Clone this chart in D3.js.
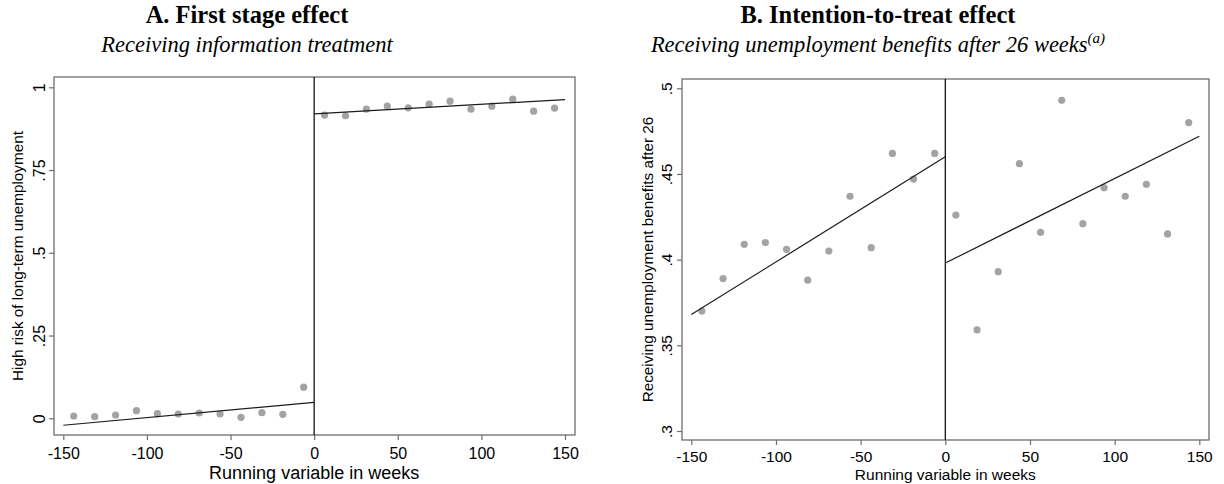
<!DOCTYPE html>
<html>
<head>
<meta charset="utf-8">
<script src="https://cdn.jsdelivr.net/npm/d3@7"></script>
<style>
  body { margin: 0; background: #fff; }
  svg text { fill: #000; }
</style>
</head>
<body>
<svg id="svg" width="1224" height="484"></svg>
<script>
// bin centres of the running variable (weeks)
const binsLeft = [-143.75, -131.25, -118.75, -106.25, -93.75, -81.25, -68.75, -56.25, -43.75, -31.25, -18.75, -6.25];
const binsRight = [6.25, 18.75, 31.25, 43.75, 56.25, 68.75, 81.25, 93.75, 106.25, 118.75, 131.25, 143.75];

// panel A: first stage
const firstLeft = [0.007, 0.005, 0.010, 0.023, 0.014, 0.013, 0.016, 0.013, 0.003, 0.017, 0.012, 0.094];
const firstRight = [0.916, 0.914, 0.934, 0.943, 0.938, 0.949, 0.958, 0.934, 0.943, 0.964, 0.928, 0.937];
const firstFitLeft = [[-150, -0.021], [0, 0.048]];
const firstFitRight = [[0, 0.920], [150, 0.963]];

// panel B: intention to treat
const ittLeft = [0.370, 0.389, 0.409, 0.410, 0.406, 0.388, 0.405, 0.437, 0.407, 0.462, 0.447, 0.462];
const ittRight = [0.426, 0.359, 0.393, 0.456, 0.416, 0.493, 0.421, 0.442, 0.437, 0.444, 0.415, 0.480];
const ittFitLeft = [[-150, 0.368], [0, 0.460]];
const ittFitRight = [[0, 0.398], [150, 0.472]];

const xTicks = [-150, -100, -50, 0, 50, 100, 150];
const yTicksA = [0, 0.25, 0.5, 0.75, 1];
const yTicksB = [0.3, 0.35, 0.4, 0.45, 0.5];

const svg = d3.select('#svg');

function fmt(d) {
  return d === 0 ? '0' : String(d).replace(/^0\./, '.');
}

function drawPanel(cfg) {
  const g = svg.append('g');

  const x = d3.scaleLinear().domain([-150, 150]).range(cfg.xRange);
  const y = d3.scaleLinear().domain(cfg.yDomain).range(cfg.yRange);

  // titles
  g.append('text')
    .attr('x', cfg.titleX).attr('y', 23)
    .attr('text-anchor', 'middle')
    .style('font-family', '"Liberation Serif", serif')
    .style('font-weight', 700)
    .style('font-size', '24.5px')
    .text(cfg.title);

  const sub = g.append('text')
    .attr('x', cfg.titleX).attr('y', 52)
    .attr('text-anchor', 'middle')
    .style('font-family', '"Liberation Serif", serif')
    .style('font-style', 'italic')
    .style('font-size', '22.5px')
    .text(cfg.subtitle);
  if (cfg.sup) {
    sub.append('tspan')
      .attr('dy', -9)
      .style('font-size', '15px')
      .text(cfg.sup);
  }

  // frame
  g.append('rect')
    .attr('x', cfg.frame[0]).attr('y', cfg.frame[1])
    .attr('width', cfg.frame[2] - cfg.frame[0])
    .attr('height', cfg.frame[3] - cfg.frame[1])
    .style('fill', 'none')
    .style('stroke', '#6e6e6e')
    .style('stroke-width', 1.3);

  // x ticks
  const xAxisG = g.append('g')
    .attr('transform', `translate(0,${cfg.frame[3]})`)
    .call(d3.axisBottom(x).tickValues(xTicks).tickSize(5).tickPadding(cfg.xPad).tickFormat(d => d));
  xAxisG.select('path.domain').remove();
  xAxisG.selectAll('line').style('stroke', '#6e6e6e').style('stroke-width', 1.2);
  xAxisG.selectAll('text')
    .style('font-family', '"Liberation Sans", Arial, sans-serif')
    .style('font-size', cfg.tickSize);

  // y ticks (rotated labels)
  const yAxisG = g.append('g')
    .attr('transform', `translate(${cfg.frame[0]},0)`)
    .call(d3.axisLeft(y).tickValues(cfg.yTicks).tickSize(5).tickFormat(fmt));
  yAxisG.select('path.domain').remove();
  yAxisG.selectAll('line').style('stroke', '#6e6e6e').style('stroke-width', 1.2);
  yAxisG.selectAll('text')
    .attr('x', null).attr('dy', null)
    .attr('transform', `translate(${cfg.yTickOff},0) rotate(-90)`)
    .attr('text-anchor', 'middle')
    .style('font-family', '"Liberation Sans", Arial, sans-serif')
    .style('font-size', cfg.tickSize);

  // axis titles
  g.append('text')
    .attr('transform', `translate(${cfg.yLabelX},${(cfg.frame[1] + cfg.frame[3]) / 2}) rotate(-90)`)
    .attr('text-anchor', 'middle')
    .style('font-family', '"Liberation Sans", Arial, sans-serif')
    .style('font-size', cfg.yLabelSize)
    .text(cfg.yLabel);

  g.append('text')
    .attr('x', x(0)).attr('y', cfg.xLabelY)
    .attr('text-anchor', 'middle')
    .style('font-family', '"Liberation Sans", Arial, sans-serif')
    .style('font-size', cfg.xLabelSize)
    .text('Running variable in weeks');

  // cutoff line
  g.append('line')
    .attr('x1', x(0)).attr('x2', x(0))
    .attr('y1', cfg.frame[1]).attr('y2', cfg.frame[3])
    .style('stroke', '#000').style('stroke-width', 1.2);

  // binned means
  const pts = binsLeft.map((b, i) => [b, cfg.left[i]])
    .concat(binsRight.map((b, i) => [b, cfg.right[i]]));
  g.selectAll('.pt')
    .data(pts)
    .join('circle')
    .attr('class', 'pt')
    .attr('cx', d => x(d[0]))
    .attr('cy', d => y(d[1]))
    .attr('r', 3.6)
    .style('fill', '#a3a3a3');

  // linear fits
  const line = d3.line().x(d => x(d[0])).y(d => y(d[1]));
  [cfg.fitLeft, cfg.fitRight].forEach(f => {
    g.append('path')
      .attr('d', line(f))
      .style('fill', 'none')
      .style('stroke', '#1a1a1a')
      .style('stroke-width', 1.2);
  });
}

drawPanel({
  title: 'A. First stage effect',
  subtitle: 'Receiving information treatment',
  titleX: 247,
  xRange: [63.3, 565],
  yDomain: [0, 1],
  yRange: [418.3, 87.3],
  yTicks: yTicksA,
  frame: [54, 77, 575, 435],
  tickSize: '16px',
  xPad: 8,
  yTickOff: -9,
  yLabel: 'High risk of long-term unemployment',
  yLabelX: 23,
  yLabelSize: '15.3px',
  xLabelY: 479,
  xLabelSize: '18px',
  left: firstLeft, right: firstRight,
  fitLeft: firstFitLeft, fitRight: firstFitRight
});

drawPanel({
  title: 'B. Intention-to-treat effect',
  subtitle: 'Receiving unemployment benefits after 26 weeks',
  sup: '(a)',
  titleX: 878,
  xRange: [691.3, 1199.3],
  yDomain: [0.3, 0.5],
  yRange: [431, 88.3],
  yTicks: yTicksB,
  frame: [682, 79, 1209, 440],
  tickSize: '15.5px',
  xPad: 6,
  yTickOff: -10,
  yLabel: 'Receiving unemployment benefits after 26',
  yLabelX: 653,
  yLabelSize: '15.3px',
  xLabelY: 480,
  xLabelSize: '15.5px',
  left: ittLeft, right: ittRight,
  fitLeft: ittFitLeft, fitRight: ittFitRight
});
</script>
</body>
</html>
